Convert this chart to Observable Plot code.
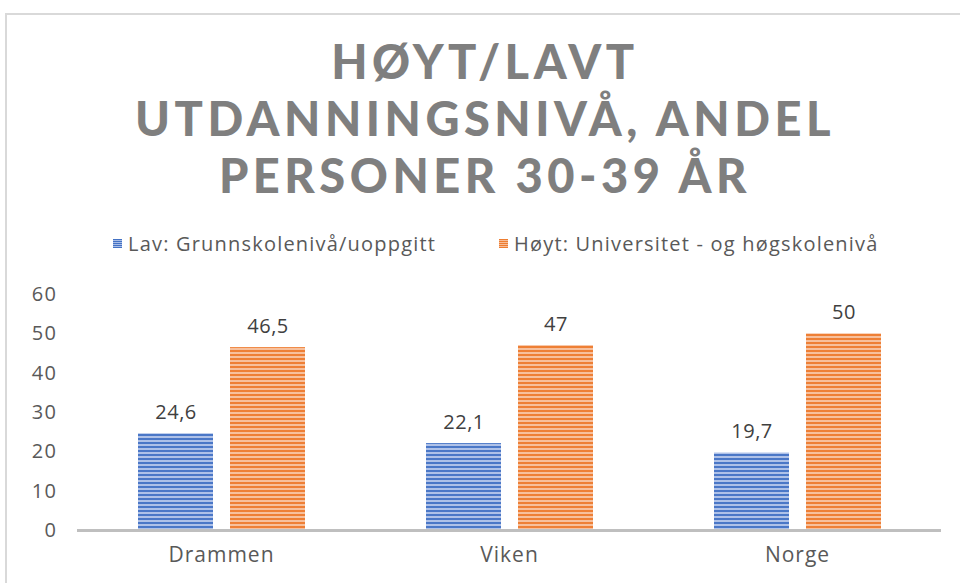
<!DOCTYPE html>
<html><head><meta charset="utf-8">
<script src="https://cdn.jsdelivr.net/npm/d3@7"></script>
<script src="https://cdn.jsdelivr.net/npm/@observablehq/plot@0.6"></script>
<style>
body{margin:0;width:960px;height:583px;overflow:hidden;background:#fff;position:relative;font-family:"Open Sans",sans-serif}
#frame{position:absolute;left:5px;top:13px;width:1000px;height:700px;border:2px solid #d9d9d9;box-sizing:border-box}
#title{position:absolute;left:0;width:970px;top:33px;margin:0;text-align:center;font-family:Lato,sans-serif;font-weight:900;font-size:47px;line-height:57px;letter-spacing:4.5px;color:#7f7f7f}
.leg{position:absolute;top:230px;font-size:20px;letter-spacing:1.2px;color:#595959;white-space:nowrap;display:flex;align-items:center}
.sw{display:inline-block;width:9px;height:9px;margin-right:6px}
#chart{position:absolute;top:270px;left:0}
</style></head>
<body>
<div id="frame"></div>
<h1 id="title">HØYT/LAVT<br>UTDANNINGSNIVÅ, ANDEL<br>PERSONER 30-39 ÅR</h1>
<div id="leg1" class="leg" style="left:113px"><span class="sw" style="background:repeating-linear-gradient(#4472c4 0 1px,#a9bde6 1px 2px)"></span><span id="l1"></span></div>
<div id="leg2" class="leg" style="left:499px"><span class="sw" style="background:repeating-linear-gradient(#ed7d31 0 1px,#f6bd98 1px 2px)"></span><span id="l2"></span></div>
<div id="chart"></div>
<script>
const categories = ["Drammen", "Viken", "Norge"];
const seriesNames = ["Lav: Grunnskolenivå/uoppgitt", "Høyt: Universitet - og høgskolenivå"];
const lavValues = [24.6, 22.1, 19.7];
const hoyValues = [46.5, 47, 50];
const yTicks = [0, 10, 20, 30, 40, 50, 60];

document.getElementById("l1").textContent = seriesNames[0];
document.getElementById("l2").textContent = seriesNames[1];

const data = [];
categories.forEach((c, i) => {
  data.push({cat: c, series: seriesNames[0], value: lavValues[i]});
  data.push({cat: c, series: seriesNames[1], value: hoyValues[i]});
});
const fmt = v => String(v).replace(".", ",");

const chart = Plot.plot({
  width: 960, height: 313,
  marginLeft: 77, marginRight: 19, marginTop: 24, marginBottom: 53,
  style: {fontSize: "20px", fontFamily: "'Open Sans', sans-serif", color: "#595959", background: "transparent", overflow: "visible"},
  fx: {domain: categories, padding: 0, label: null, axis: "bottom", tickSize: 0, tickPadding: 17},
  x: {domain: seriesNames, paddingInner: 0.185, paddingOuter: 0.657, axis: null},
  y: {domain: [0, 60], ticks: yTicks, tickSize: 0, tickPadding: 20, label: null, tickFormat: d => String(d)},
  color: {domain: seriesNames, range: ["url(#pLav)", "url(#pHoy)"]},
  marks: [
    Plot.barY(data, {fx: "cat", x: "series", y: "value", fill: "series"}),
    Plot.text(data, {fx: "cat", x: "series", y: "value", text: d => fmt(d.value), dy: -21, fill: "#404040", fontSize: 20}),
    Plot.ruleY([0], {stroke: "#bfbfbf", strokeWidth: 3})
  ]
});

const svg = d3.select(chart);
svg.selectAll("g[aria-label='fx-axis tick label'] text").style("font-size", "21px").style("letter-spacing", "1px");
svg.selectAll("g[aria-label='y-axis tick label'] text").style("letter-spacing", "1.5px");
svg.selectAll("g[aria-label='text'] text").style("letter-spacing", "0.5px");
const defs = svg.insert("defs", ":first-child");
function stripes(id, light, dark) {
  const p = defs.append("pattern").attr("id", id).attr("patternUnits", "userSpaceOnUse").attr("width", 8).attr("height", 4);
  p.append("rect").attr("width", 8).attr("height", 4).attr("fill", light);
  p.append("rect").attr("width", 8).attr("height", 2).attr("fill", dark);
}
stripes("pLav", "#aec1e8", "#4a77c7");
stripes("pHoy", "#f7c09c", "#ee7f35");
document.getElementById("chart").append(chart);
</script>
</body></html>
